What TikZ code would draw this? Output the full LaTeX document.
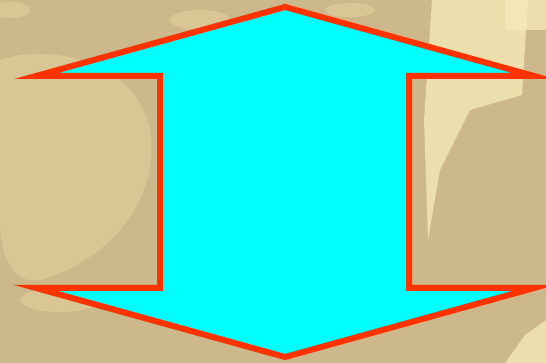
\documentclass[tikz,border=0pt]{standalone}
\usepackage{xcolor}
\definecolor{bgsand}{HTML}{CCB88A}
\definecolor{bglight}{HTML}{E6D29E}
\definecolor{bgpale}{HTML}{F6E8B8}
\definecolor{arrowcyan}{HTML}{00FFFF}
\definecolor{arrowred}{HTML}{FF3300}
\usepackage{tikz}
\tikzset{
  every picture/.style={line join=miter},
  blotch/.style={fill=bglight, opacity=0.55},
  paleband/.style={fill=bgpale, opacity=0.8},
  bigarrow/.style={fill=arrowcyan, draw=arrowred, line width=6pt, miter limit=20},
}
\begin{document}
\begin{tikzpicture}[x=1pt, y=-1pt]
% background (old photo look)
\fill[bgsand] (0,0) rectangle (546,363);
\useasboundingbox (0,0) rectangle (546,363);
\fill[paleband] (432,0) -- (528,0) -- (522,95) -- (470,110) -- (440,170) -- (428,240) -- (424,120) -- cycle;
\fill[paleband] (505,0) rectangle (546,30);
\fill[blotch] (0,60) .. controls (60,40) and (140,70) .. (150,130)
  .. controls (160,200) and (110,260) .. (40,280) .. controls (10,285) and (0,250) .. (0,220) -- cycle;
\fill[blotch] (10,10) ellipse (20 and 8);
\fill[blotch] (200,20) ellipse (30 and 10);
\fill[blotch] (60,300) ellipse (40 and 12);
\fill[blotch] (350,10) ellipse (25 and 7);
\fill[paleband] (525,335) -- (546,320) -- (546,363) -- (505,363) -- cycle;

% the double arrow
\coordinate (top) at (285,7);
\coordinate (bot) at (285,357);
\draw[bigarrow] (top) -- (534,76) -- (409,76) -- (409,288) -- (534,288)
  -- (bot) -- (36,288) -- (160,288) -- (160,76) -- (36,76) -- cycle;
\end{tikzpicture}
\end{document}
